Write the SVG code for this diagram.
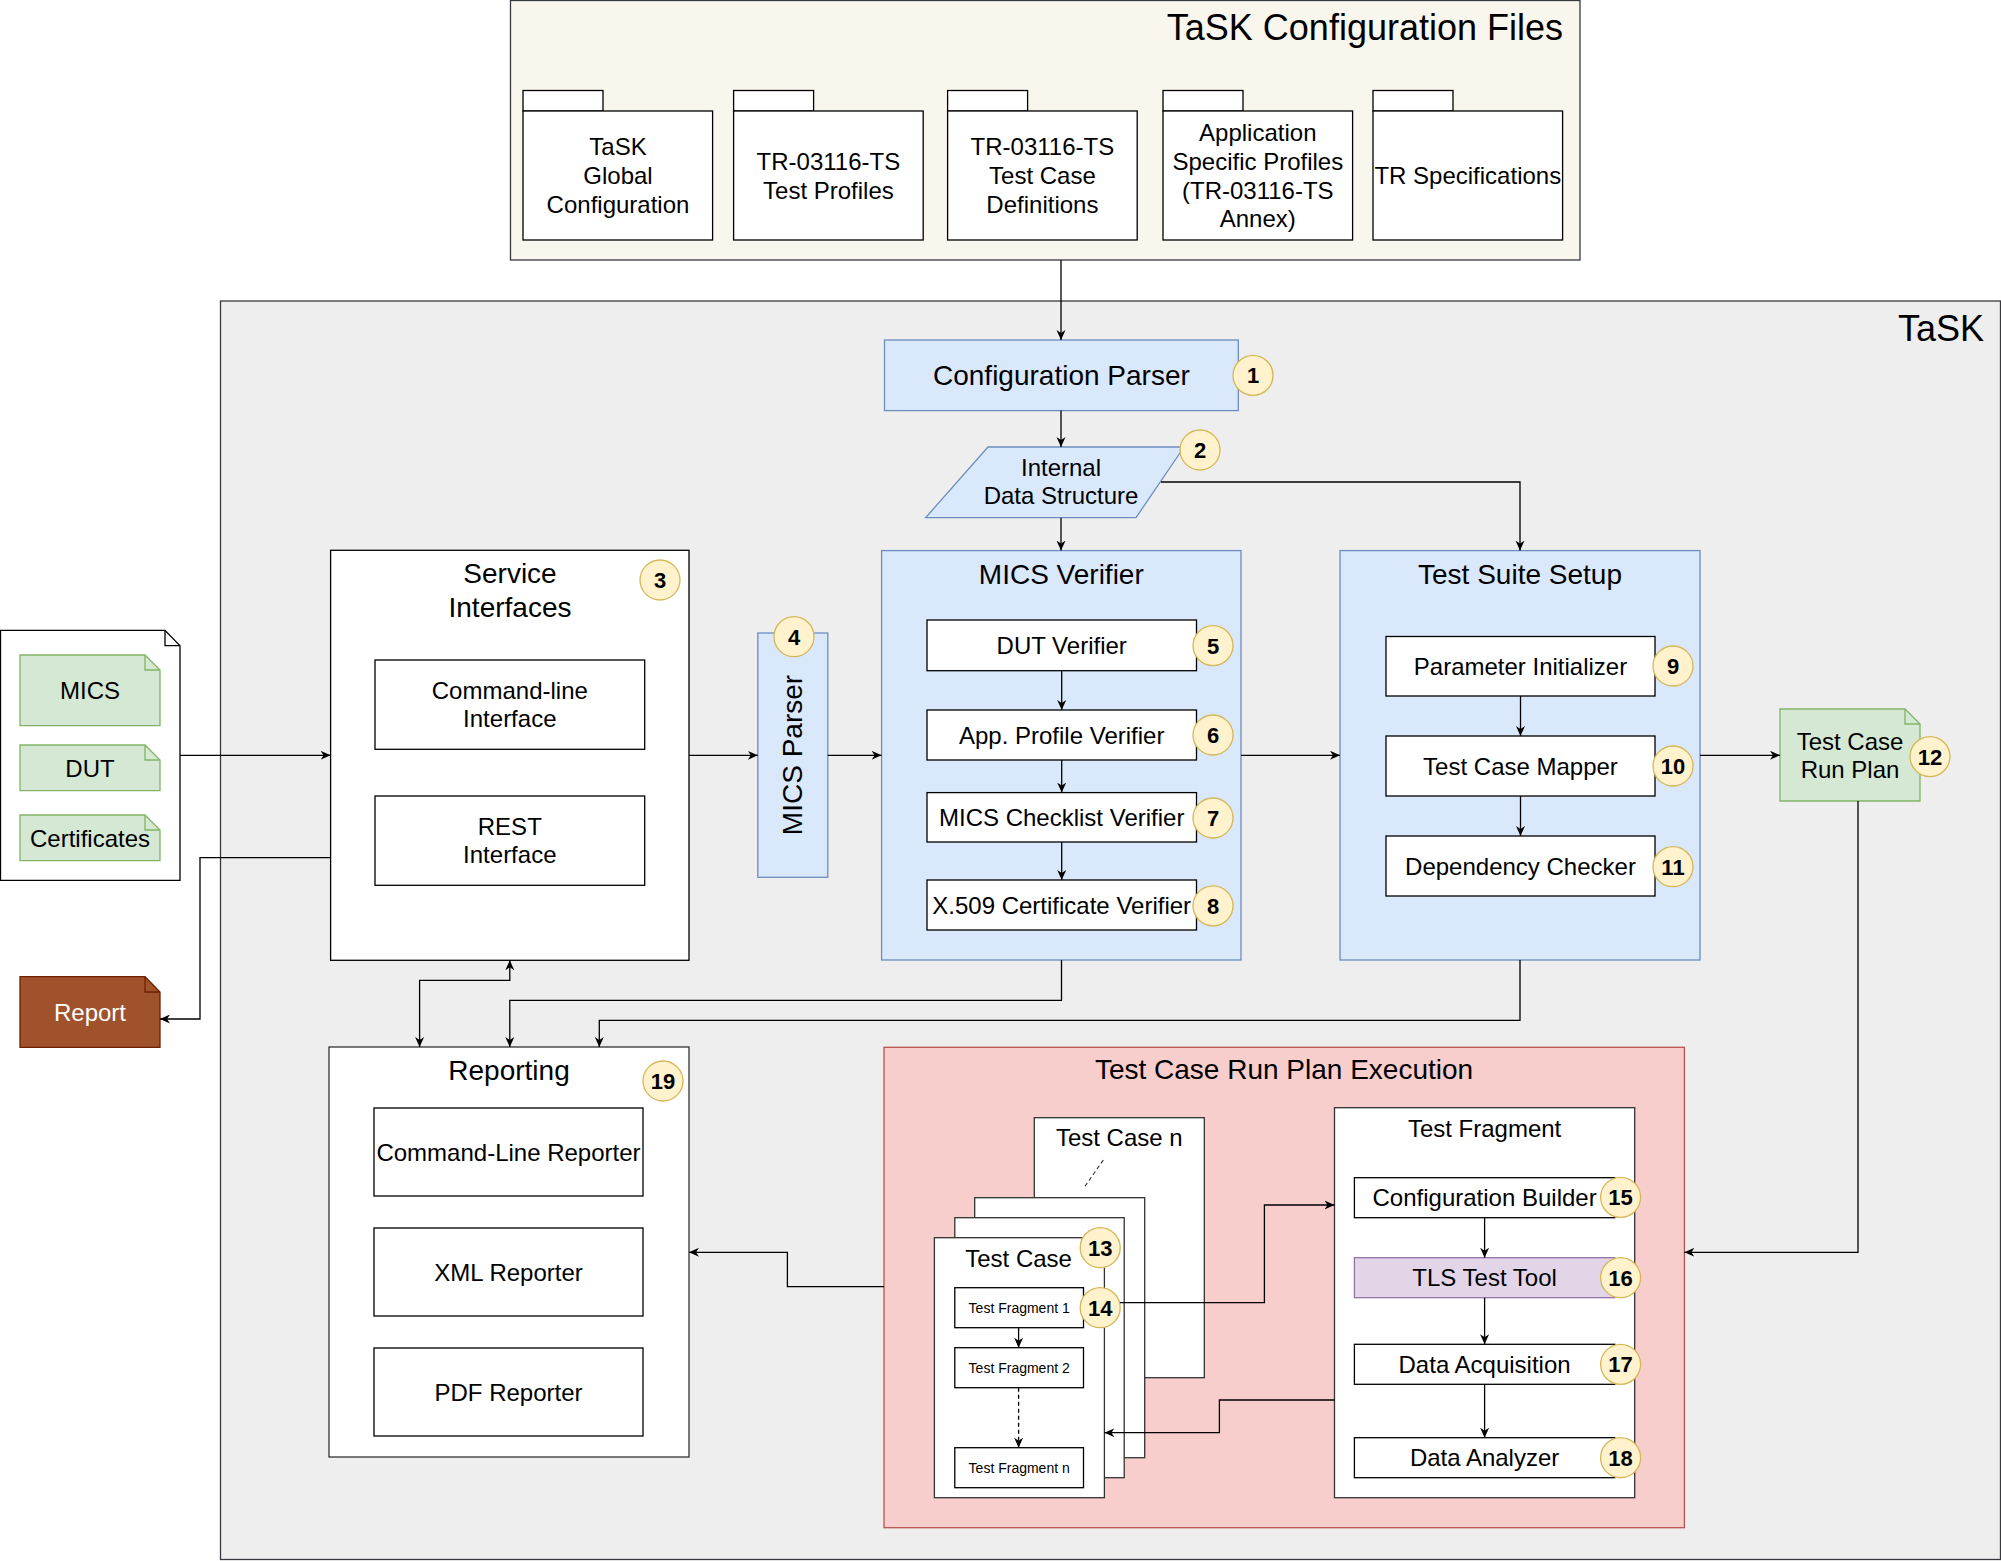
<svg xmlns="http://www.w3.org/2000/svg" width="2001" height="1561" viewBox="0 0 2001 1561">
<defs>
<marker id="arr" markerUnits="userSpaceOnUse" markerWidth="12" markerHeight="10" refX="10" refY="5" orient="auto-start-reverse">
<path d="M0,0.5 L10,5 L0,9.5 L3,5 Z" fill="#000"/>
</marker>
</defs>
<style>
text{font-family:"Liberation Sans",Arial,Helvetica,sans-serif;fill:#000}
.t35{font-size:36px}
.t28{font-size:28px;text-anchor:middle}
.t24{font-size:24px;text-anchor:middle}
.t14{font-size:14px;text-anchor:middle}
.box{fill:#fff;stroke:#000;stroke-width:1.3}
.cont{fill:#fff;stroke:#333;stroke-width:1.3}
.blue{fill:#dae8fc;stroke:#6c8ebf;stroke-width:1.3}
.green{fill:#d5e8d4;stroke:#82b366;stroke-width:1.3}
.badge{fill:#fff2cc;stroke:#d6b656;stroke-width:1.3}
.bt{font-size:22px;font-weight:bold;text-anchor:middle}
.con{fill:none;stroke:#000;stroke-width:1.3}
.arr{marker-end:url(#arr)}
</style>

<g id="config-files">
<rect x="510.5" y="0.5" width="1069.5" height="259.5" fill="#f9f7ed" stroke="#36393d" stroke-width="1.3"/>
<text class="t35" x="1563" y="40" text-anchor="end">TaSK Configuration Files</text>
</g>
<g id="folder-global">
<rect class="box" x="523" y="90.5" width="80" height="20.5"/>
<rect class="box" x="523" y="111" width="189.6" height="129"/>
<text class="t24" x="618" y="155.4">TaSK</text>
<text class="t24" x="618" y="184">Global</text>
<text class="t24" x="618" y="212.8">Configuration</text>
</g>
<g id="folder-profiles">
<rect class="box" x="733.6" y="90.5" width="80" height="20.5"/>
<rect class="box" x="733.6" y="111" width="189.6" height="129"/>
<text class="t24" x="828.4" y="170">TR-03116-TS</text>
<text class="t24" x="828.4" y="198.5">Test Profiles</text>
</g>
<g id="folder-testcases">
<rect class="box" x="947.6" y="90.5" width="80" height="20.5"/>
<rect class="box" x="947.6" y="111" width="189.6" height="129"/>
<text class="t24" x="1042.4" y="155.4">TR-03116-TS</text>
<text class="t24" x="1042.4" y="184">Test Case</text>
<text class="t24" x="1042.4" y="212.8">Definitions</text>
</g>
<g id="folder-appprofiles">
<rect class="box" x="1163" y="90.5" width="80" height="20.5"/>
<rect class="box" x="1163" y="111" width="189.6" height="129"/>
<text class="t24" x="1257.8" y="141">Application</text>
<text class="t24" x="1257.8" y="170">Specific Profiles</text>
<text class="t24" x="1257.8" y="198.5">(TR-03116-TS</text>
<text class="t24" x="1257.8" y="227">Annex)</text>
</g>
<g id="folder-trspec">
<rect class="box" x="1373" y="90.5" width="80" height="20.5"/>
<rect class="box" x="1373" y="111" width="189.6" height="129"/>
<text class="t24" x="1467.8" y="184">TR Specifications</text>
</g>

<g id="task">
<rect x="220.5" y="301" width="1780" height="1258.5" fill="#eeeeee" stroke="#36393d" stroke-width="1.3"/>
<text class="t35" x="1984" y="341" text-anchor="end">TaSK</text>
</g>

<g id="config-parser">
<rect class="blue" x="884.5" y="340" width="353.8" height="70.6"/>
<text class="t28" x="1061.4" y="385">Configuration Parser</text>
<circle class="badge" cx="1253" cy="375.4" r="20"/>
<text class="bt" x="1253" y="383.4">1</text>
</g>

<g id="internal-data">
<polygon class="blue" points="988,447 1184,447 1136,517.7 925.6,517.7"/>
<text class="t24" x="1061" y="476">Internal</text>
<text class="t24" x="1061" y="504">Data Structure</text>
<circle class="badge" cx="1200" cy="450" r="20"/>
<text class="bt" x="1200" y="458">2</text>
</g>

<g id="input-files">
<path class="box" d="M0.5,630.3 H165 L180,645.7 V880.3 H0.5 Z"/>
<path class="con" d="M165,630.3 V645.7 H180"/>
<path class="green" d="M20,655 H145 L160,670 V725.7 H20 Z"/>
<path fill="none" stroke="#82b366" stroke-width="1.3" d="M145,655 V670 H160"/>
<text class="t24" x="90" y="699">MICS</text>
<path class="green" d="M20,745 H145 L160,760 V790.7 H20 Z"/>
<path fill="none" stroke="#82b366" stroke-width="1.3" d="M145,745 V760 H160"/>
<text class="t24" x="90" y="776.5">DUT</text>
<path class="green" d="M20,815 H145 L160,830 V860.7 H20 Z"/>
<path fill="none" stroke="#82b366" stroke-width="1.3" d="M145,815 V830 H160"/>
<text class="t24" x="90" y="846.5">Certificates</text>
</g>

<g id="report">
<path d="M20,976.7 H145 L160,992 V1047.3 H20 Z" fill="#a0522d" stroke="#6d1f00" stroke-width="1.3"/>
<path fill="none" stroke="#6d1f00" stroke-width="1.3" d="M145,976.7 V992 H160"/>
<text class="t24" x="90" y="1020.6" style="fill:#fff">Report</text>
</g>

<g id="service-interfaces">
<rect class="box" x="330.6" y="550.3" width="358.4" height="410"/>
<text class="t28" x="510" y="583">Service</text>
<text class="t28" x="510" y="617">Interfaces</text>
<circle class="badge" cx="660" cy="580" r="20"/>
<text class="bt" x="660" y="588">3</text>
<rect class="box" x="375" y="660" width="269.7" height="89.3"/>
<text class="t24" x="509.8" y="699">Command-line</text>
<text class="t24" x="509.8" y="727">Interface</text>
<rect class="box" x="375" y="796" width="269.7" height="89.3"/>
<text class="t24" x="509.8" y="835">REST</text>
<text class="t24" x="509.8" y="863">Interface</text>
</g>

<g id="mics-parser">
<rect class="blue" x="757.8" y="633" width="70" height="244.3"/>
<text class="t28" transform="translate(802,755) rotate(-90)">MICS Parser</text>
<circle class="badge" cx="794" cy="636.7" r="20"/>
<text class="bt" x="794" y="644.7">4</text>
</g>

<g id="mics-verifier">
<rect class="blue" x="881.6" y="550.6" width="359.4" height="409.4"/>
<text class="t28" x="1061.3" y="584">MICS Verifier</text>
<rect class="box" x="927" y="620" width="269.5" height="50.7"/>
<text class="t24" x="1061.7" y="654">DUT Verifier</text>
<rect class="box" x="927" y="710" width="269.5" height="50"/>
<text class="t24" x="1061.7" y="743.6">App. Profile Verifier</text>
<rect class="box" x="927" y="792.6" width="269.5" height="49.4"/>
<text class="t24" x="1061.7" y="826">MICS Checklist Verifier</text>
<rect class="box" x="927" y="880" width="269.5" height="50"/>
<text class="t24" x="1061.7" y="913.6">X.509 Certificate Verifier</text>
<circle class="badge" cx="1213" cy="645.6" r="20"/>
<text class="bt" x="1213" y="653.6">5</text>
<circle class="badge" cx="1213" cy="735" r="20"/>
<text class="bt" x="1213" y="743">6</text>
<circle class="badge" cx="1213" cy="818" r="20"/>
<text class="bt" x="1213" y="826">7</text>
<circle class="badge" cx="1213" cy="905.8" r="20"/>
<text class="bt" x="1213" y="913.8">8</text>
</g>

<g id="test-suite-setup">
<rect class="blue" x="1340" y="550.6" width="360" height="409.4"/>
<text class="t28" x="1520" y="584">Test Suite Setup</text>
<rect class="box" x="1386" y="636.5" width="269" height="59.5"/>
<text class="t24" x="1520.5" y="675">Parameter Initializer</text>
<rect class="box" x="1386" y="736" width="269" height="60"/>
<text class="t24" x="1520.5" y="774.6">Test Case Mapper</text>
<rect class="box" x="1386" y="836" width="269" height="60"/>
<text class="t24" x="1520.5" y="874.6">Dependency Checker</text>
<circle class="badge" cx="1673" cy="666" r="20"/>
<text class="bt" x="1673" y="674">9</text>
<circle class="badge" cx="1673" cy="766" r="20"/>
<text class="bt" x="1673" y="774">10</text>
<circle class="badge" cx="1673" cy="866.7" r="20"/>
<text class="bt" x="1673" y="874.7">11</text>
</g>

<g id="run-plan">
<path class="green" d="M1780,709 H1905 L1920,724 V801 H1780 Z"/>
<path fill="none" stroke="#82b366" stroke-width="1.3" d="M1905,709 V724 H1920"/>
<text class="t24" x="1850" y="749.6">Test Case</text>
<text class="t24" x="1850" y="777.6">Run Plan</text>
<circle class="badge" cx="1930" cy="756.6" r="20"/>
<text class="bt" x="1930" y="764.6">12</text>
</g>

<g id="reporting">
<rect class="cont" x="329" y="1047" width="360" height="410"/>
<text class="t28" x="509" y="1080">Reporting</text>
<circle class="badge" cx="663" cy="1081" r="20"/>
<text class="bt" x="663" y="1089">19</text>
<rect class="box" x="374" y="1108" width="269" height="88"/>
<text class="t24" x="508.5" y="1160.6">Command-Line Reporter</text>
<rect class="box" x="374" y="1228" width="269" height="88"/>
<text class="t24" x="508.5" y="1280.6">XML Reporter</text>
<rect class="box" x="374" y="1348" width="269" height="88"/>
<text class="t24" x="508.5" y="1400.6">PDF Reporter</text>
</g>

<g id="execution">
<rect x="884" y="1047.3" width="800.4" height="480.4" fill="#f8cecc" stroke="#b85450" stroke-width="1.3"/>
<text class="t28" x="1284" y="1079">Test Case Run Plan Execution</text>
</g>

<g id="test-cases">
<rect class="cont" x="1034.3" y="1117.7" width="170" height="260"/>
<text class="t24" x="1119.3" y="1146">Test Case n</text>
<path d="M1103.3,1160 L1084,1187.7" fill="none" stroke="#333" stroke-width="1.2" stroke-dasharray="4,3"/>
<rect class="cont" x="974.7" y="1197.7" width="170" height="260"/>
<rect class="cont" x="954.8" y="1217.7" width="169.4" height="260"/>
<rect class="cont" x="934.4" y="1237.7" width="170" height="260"/>
<text class="t24" x="1018.6" y="1267">Test Case</text>
<rect class="box" x="954.8" y="1287.7" width="128.7" height="40"/>
<text class="t14" x="1019.2" y="1312.7">Test Fragment 1</text>
<rect class="box" x="954.8" y="1347.7" width="128.7" height="40"/>
<text class="t14" x="1019.2" y="1372.7">Test Fragment 2</text>
<rect class="box" x="954.8" y="1447.7" width="128.7" height="40"/>
<text class="t14" x="1019.2" y="1472.7">Test Fragment n</text>
<circle class="badge" cx="1100.2" cy="1247.7" r="20"/>
<text class="bt" x="1100.2" y="1255.7">13</text>
<circle class="badge" cx="1100.2" cy="1307.7" r="20"/>
<text class="bt" x="1100.2" y="1315.7">14</text>
</g>

<g id="test-fragment">
<rect class="cont" x="1334.5" y="1107.7" width="300.2" height="390"/>
<text class="t24" x="1484.6" y="1137">Test Fragment</text>
<rect class="box" x="1354.4" y="1177.7" width="260.4" height="40"/>
<text class="t24" x="1484.6" y="1206.3">Configuration Builder</text>
<rect x="1354.4" y="1257.7" width="260.4" height="40" fill="#e1d5e7" stroke="#9673a6" stroke-width="1.3"/>
<text class="t24" x="1484.6" y="1286.3">TLS Test Tool</text>
<rect class="box" x="1354.4" y="1344.3" width="260.4" height="40"/>
<text class="t24" x="1484.6" y="1373">Data Acquisition</text>
<rect class="box" x="1354.4" y="1437.7" width="260.4" height="40"/>
<text class="t24" x="1484.6" y="1466.3">Data Analyzer</text>
<circle class="badge" cx="1620.6" cy="1197.3" r="20"/>
<text class="bt" x="1620.6" y="1205.3">15</text>
<circle class="badge" cx="1620.6" cy="1277.7" r="20"/>
<text class="bt" x="1620.6" y="1285.7">16</text>
<circle class="badge" cx="1620.6" cy="1364.3" r="20"/>
<text class="bt" x="1620.6" y="1372.3">17</text>
<circle class="badge" cx="1620.6" cy="1457.7" r="20"/>
<text class="bt" x="1620.6" y="1465.7">18</text>
</g>

<g id="connectors">
<path class="con arr" d="M1061,260 V340"/>
<path class="con arr" d="M1061,410.6 V447"/>
<path class="con arr" d="M1061,517.7 V550.6"/>
<path class="con arr" d="M1161,482 H1520 V550.6"/>
<path class="con arr" d="M180,755.3 H330.6"/>
<path class="con arr" d="M689,755.3 H757.8"/>
<path class="con arr" d="M827.8,755.3 H881.6"/>
<path class="con arr" d="M1241,755.3 H1340"/>
<path class="con arr" d="M1700,755.3 H1780"/>
<path class="con arr" d="M1061.7,670.7 V710"/>
<path class="con arr" d="M1061.7,760 V792.6"/>
<path class="con arr" d="M1061.7,842 V880"/>
<path class="con arr" d="M1520.5,696 V736"/>
<path class="con arr" d="M1520.5,796 V836"/>
<path class="con arr" d="M330.6,857.7 H200 V1019 H160"/>
<path class="con arr" d="M419.6,1047 V980.3 H509.8 V960.3" style="marker-start:url(#arr)"/>
<path class="con arr" d="M1061.5,960 V1000.3 H509.8 V1047"/>
<path class="con arr" d="M1520,960 V1020.3 H599.3 V1047"/>
<path class="con arr" d="M1858,801 V1252.3 H1684.4"/>
<path class="con arr" d="M884,1286.7 H787.4 V1252.3 H689"/>
<path class="con arr" d="M1018.6,1327.7 V1347.7"/>
<path class="con arr" d="M1018.6,1387.7 V1447.7" stroke-dasharray="4,3"/>
<path class="con arr" d="M1120,1302.7 H1264.4 V1205 H1334.5"/>
<path class="con arr" d="M1334.5,1400 H1219.4 V1432.7 H1104.4"/>
<path class="con arr" d="M1484.6,1217.7 V1257.7"/>
<path class="con arr" d="M1484.6,1297.7 V1344.3"/>
<path class="con arr" d="M1484.6,1384.3 V1437.7"/>
</g>
</svg>
